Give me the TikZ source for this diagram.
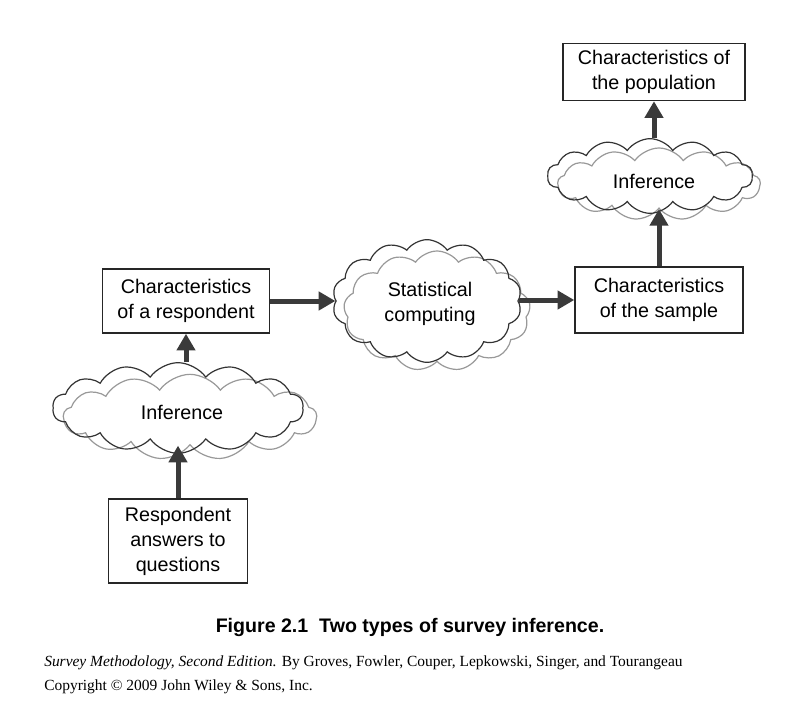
\documentclass[tikz,border=0pt]{standalone}
\usepackage{fontspec}
\setmainfont{Liberation Serif}
\setsansfont{Liberation Sans}
\usetikzlibrary{shapes.symbols,arrows.meta,positioning}
\definecolor{arrowgray}{HTML}{3A3A3A}
\definecolor{cloudgray}{HTML}{999999}
\tikzset{
  box/.style={draw=black!85, line width=1.1pt, fill=white, align=center, inner sep=0pt,
    font=\sffamily\fontsize{14.8}{18.75}\selectfont},
  cloudblack/.style={cloud, cloud puffs=14, cloud puff arc=110, draw=black!80, line width=0.9pt,
    align=center, inner sep=0pt, font=\sffamily\fontsize{14.8}{18.75}\selectfont},
  cloudgrey/.style={cloud, cloud puffs=13, cloud puff arc=110, draw=cloudgray, line width=0.9pt,
    fill=white, inner sep=0pt},
  arr/.style={draw=arrowgray, line width=3.75pt, -{Triangle[length=12.5pt,width=13.5pt]}},
}
\begin{document}
\begin{tikzpicture}[x=0.75pt,y=-0.75pt]
\useasboundingbox[fill=white] (0,0) rectangle (810,717);
% boxes
\node[box, minimum width=136.5pt, minimum height=42.75pt] (pop) at (654,72) {Characteristics of\\the population};
\node[box, minimum width=126pt, minimum height=49.5pt] (samp) at (659,300) {Characteristics\\of the sample};
\node[box, minimum width=125.25pt, minimum height=48pt] (resp) at (186,301) {Characteristics\\of a respondent};
\node[box, minimum width=104.25pt, minimum height=63pt] (ans) at (178,541) {Respondent\\answers to\\questions};
% clouds (gray shadow first)
\node[cloudgrey, minimum width=190pt, minimum height=64pt] (lcloudg) at (190,417) {};
\node[cloudblack, minimum width=188pt, minimum height=68pt] (lcloud) at (178,408) {};
\node[font=\sffamily\fontsize{14.8}{18.75}\selectfont] (linf) at (182,412) {Inference};
\node[cloudgrey, minimum width=140pt, minimum height=90pt] (scloudg) at (437,311) {};
\node[cloudblack, minimum width=142pt, minimum height=92pt] (scloud) at (427,301) {};
\node[font=\sffamily\fontsize{14.8}{18.75}\selectfont, align=center] (stat) at (430,304) {Statistical\\computing};
\node[cloudgrey, minimum width=152pt, minimum height=54pt] (tcloudg) at (659,184) {};
\node[cloudblack, minimum width=154pt, minimum height=56pt] (tcloud) at (650,176) {};
\node[font=\sffamily\fontsize{14.8}{18.75}\selectfont] (tinf) at (654,181) {Inference};
% arrows
\draw[arr] (ans.north) -- (ans.north |- lcloudg.south);
\draw[arr] (resp.south |- lcloud.north) -- (resp.south);
\draw[arr] (resp.east) -- (scloud.west |- resp.east);
\draw[arr] (scloud.east |- samp.west) -- (samp.west);
\draw[arr] (samp.north) -- (samp.north |- tcloudg.south);
\draw[arr] (pop.south |- tcloud.north) -- (pop.south);
% caption
\node[font=\sffamily\bfseries\fontsize{14.7}{17}\selectfont] (cap) at (410,627) {Figure 2.1\ \ Two types of survey inference.};
\node[anchor=west, inner sep=0pt, font=\fontsize{11.6}{14}\selectfont] (ref1) at (44,663) {\textit{Survey Methodology, Second Edition.} By Groves, Fowler, Couper, Lepkowski, Singer, and Tourangeau};
\node[anchor=west, inner sep=0pt, font=\fontsize{11.6}{14}\selectfont] (ref2) at (44,687) {Copyright \textcopyright{} 2009 John Wiley \& Sons, Inc.};
\end{tikzpicture}
\end{document}
